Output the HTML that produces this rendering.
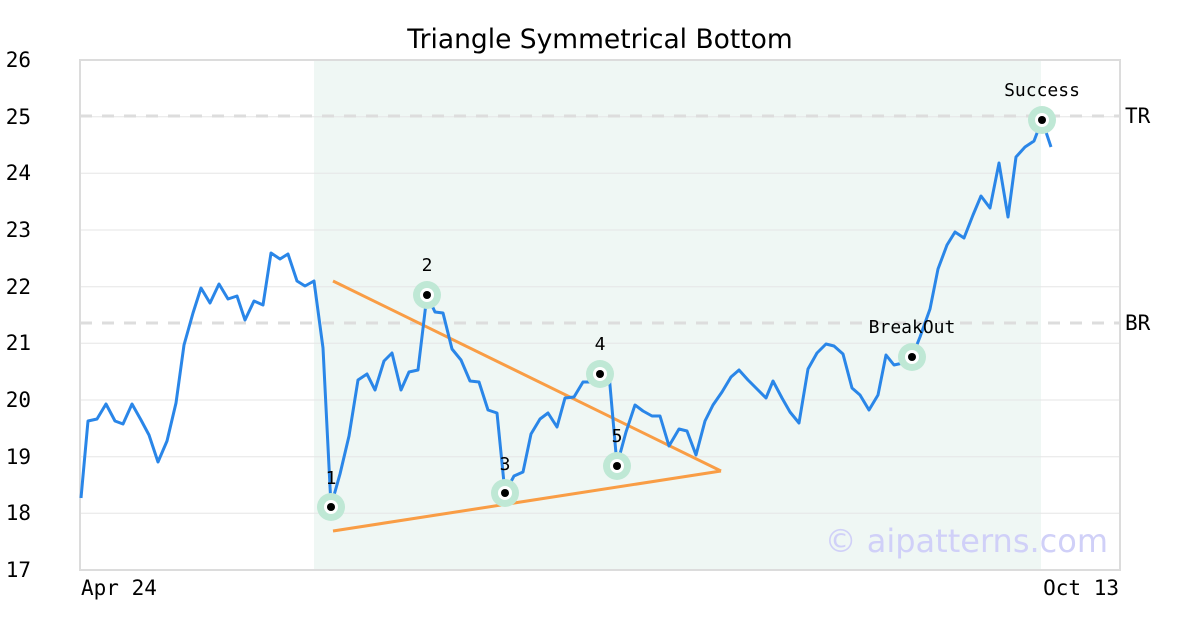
<!DOCTYPE html>
<html><head><meta charset="utf-8"><style>
body{margin:0;background:#fff;}
svg{display:block;}
</style></head><body>
<svg width="1200" height="630" xmlns="http://www.w3.org/2000/svg">
<rect width="1200" height="630" fill="#fff"/>
<rect x="314" y="60" width="727" height="510" fill="#eff7f4"/>
<g stroke="#e6e6e6" stroke-width="1">
<line x1="80" x2="1120" y1="513.3" y2="513.3"/>
<line x1="80" x2="1120" y1="456.7" y2="456.7"/>
<line x1="80" x2="1120" y1="400" y2="400"/>
<line x1="80" x2="1120" y1="343.3" y2="343.3"/>
<line x1="80" x2="1120" y1="286.7" y2="286.7"/>
<line x1="80" x2="1120" y1="230" y2="230"/>
<line x1="80" x2="1120" y1="173.3" y2="173.3"/>
<line x1="80" x2="1120" y1="116.7" y2="116.7"/>
</g>
<g stroke="#dddddd" stroke-width="3" stroke-dasharray="12,10">
<line x1="80" x2="1120" y1="116" y2="116"/>
<line x1="80" x2="1120" y1="323" y2="323"/>
</g>
<rect x="80" y="60" width="1040" height="510" fill="none" stroke="#dcdcdc" stroke-width="2"/>
<text x="1108" y="552" text-anchor="end" font-family="DejaVu Sans, sans-serif" font-size="32" fill="#d0d0f8">© aipatterns.com</text>
<g stroke="#f99d45" stroke-width="3" fill="none">
<line x1="333" y1="281" x2="721" y2="471"/>
<line x1="333" y1="531" x2="721" y2="471"/>
</g>
<polyline fill="none" stroke="#2a86e8" stroke-width="3" stroke-linejoin="round" points="81,498 88,421 97,419 106,404 115,421 123,424 132,404 141,420 149,435 158,462 167,441 176,403 184,345 193,313 201,288 210,303 219,284 228,299 237,296 245,320 254,301 263,305 271,253 280,259 288,254 297,281 305,286 314,281 323,348 331,506 340,474 349,436 358,380 367,374 375,390 384,361 392,353 401,390 409,372 418,370 427,295 435,312 443,313 452,349 461,360 470,381 479,382 488,410 497,413 505,493 514,476 523,472 531,434 540,419 548,413 557,427 565,398 574,397 583,382 591,382 600,375 609,374 617,465 626,432 635,405 643,411 652,416 660,416 669,446 679,429 687,431 696,455 705,421 713,405 722,392 731,377 739,370 748,380 757,389 766,398 773,381 782,398 790,412 799,423 808,369 817,353 826,344 834,346 843,354 852,388 860,395 869,410 878,395 886,355 894,365 903,363 912,357 920,337 930,309 938,269 947,245 955,232 964,238 973,215 981,196 990,208 999,163 1008,217 1016,157 1025,147 1034,141 1042,120 1051,147"/>
<g>
<g transform="translate(331,507)"><circle r="14" fill="#bfe8d5"/><circle r="7" fill="#fff"/><circle r="4" fill="#000"/></g>
<g transform="translate(427,295)"><circle r="14" fill="#bfe8d5"/><circle r="7" fill="#fff"/><circle r="4" fill="#000"/></g>
<g transform="translate(505,493)"><circle r="14" fill="#bfe8d5"/><circle r="7" fill="#fff"/><circle r="4" fill="#000"/></g>
<g transform="translate(600,374)"><circle r="14" fill="#bfe8d5"/><circle r="7" fill="#fff"/><circle r="4" fill="#000"/></g>
<g transform="translate(617,466)"><circle r="14" fill="#bfe8d5"/><circle r="7" fill="#fff"/><circle r="4" fill="#000"/></g>
<g transform="translate(912,357)"><circle r="14" fill="#bfe8d5"/><circle r="7" fill="#fff"/><circle r="4" fill="#000"/></g>
<g transform="translate(1042,120)"><circle r="14" fill="#bfe8d5"/><circle r="7" fill="#fff"/><circle r="4" fill="#000"/></g>
</g>
<g font-family="DejaVu Sans Mono, monospace" font-size="18" fill="#000" text-anchor="middle">
<text x="331" y="484">1</text>
<text x="427" y="271">2</text>
<text x="505" y="470">3</text>
<text x="600" y="350">4</text>
<text x="617" y="442">5</text>
<text x="912" y="333">BreakOut</text>
<text x="1042" y="96">Success</text>
</g>
<g font-family="DejaVu Sans Mono, monospace" font-size="21" fill="#000" text-anchor="end">
<text x="31" y="577">17</text>
<text x="31" y="520">18</text>
<text x="31" y="464">19</text>
<text x="31" y="407">20</text>
<text x="31" y="350">21</text>
<text x="31" y="294">22</text>
<text x="31" y="237">23</text>
<text x="31" y="180">24</text>
<text x="31" y="124">25</text>
<text x="31" y="67">26</text>
</g>
<g font-family="DejaVu Sans Mono, monospace" font-size="21" fill="#000">
<text x="1125" y="123">TR</text>
<text x="1125" y="330">BR</text>
<text x="81" y="595">Apr 24</text>
<text x="1119" y="595" text-anchor="end">Oct 13</text>
</g>
<text x="600" y="48" text-anchor="middle" font-family="DejaVu Sans, sans-serif" font-size="26.5" fill="#000">Triangle Symmetrical Bottom</text>
</svg>
</body></html>
